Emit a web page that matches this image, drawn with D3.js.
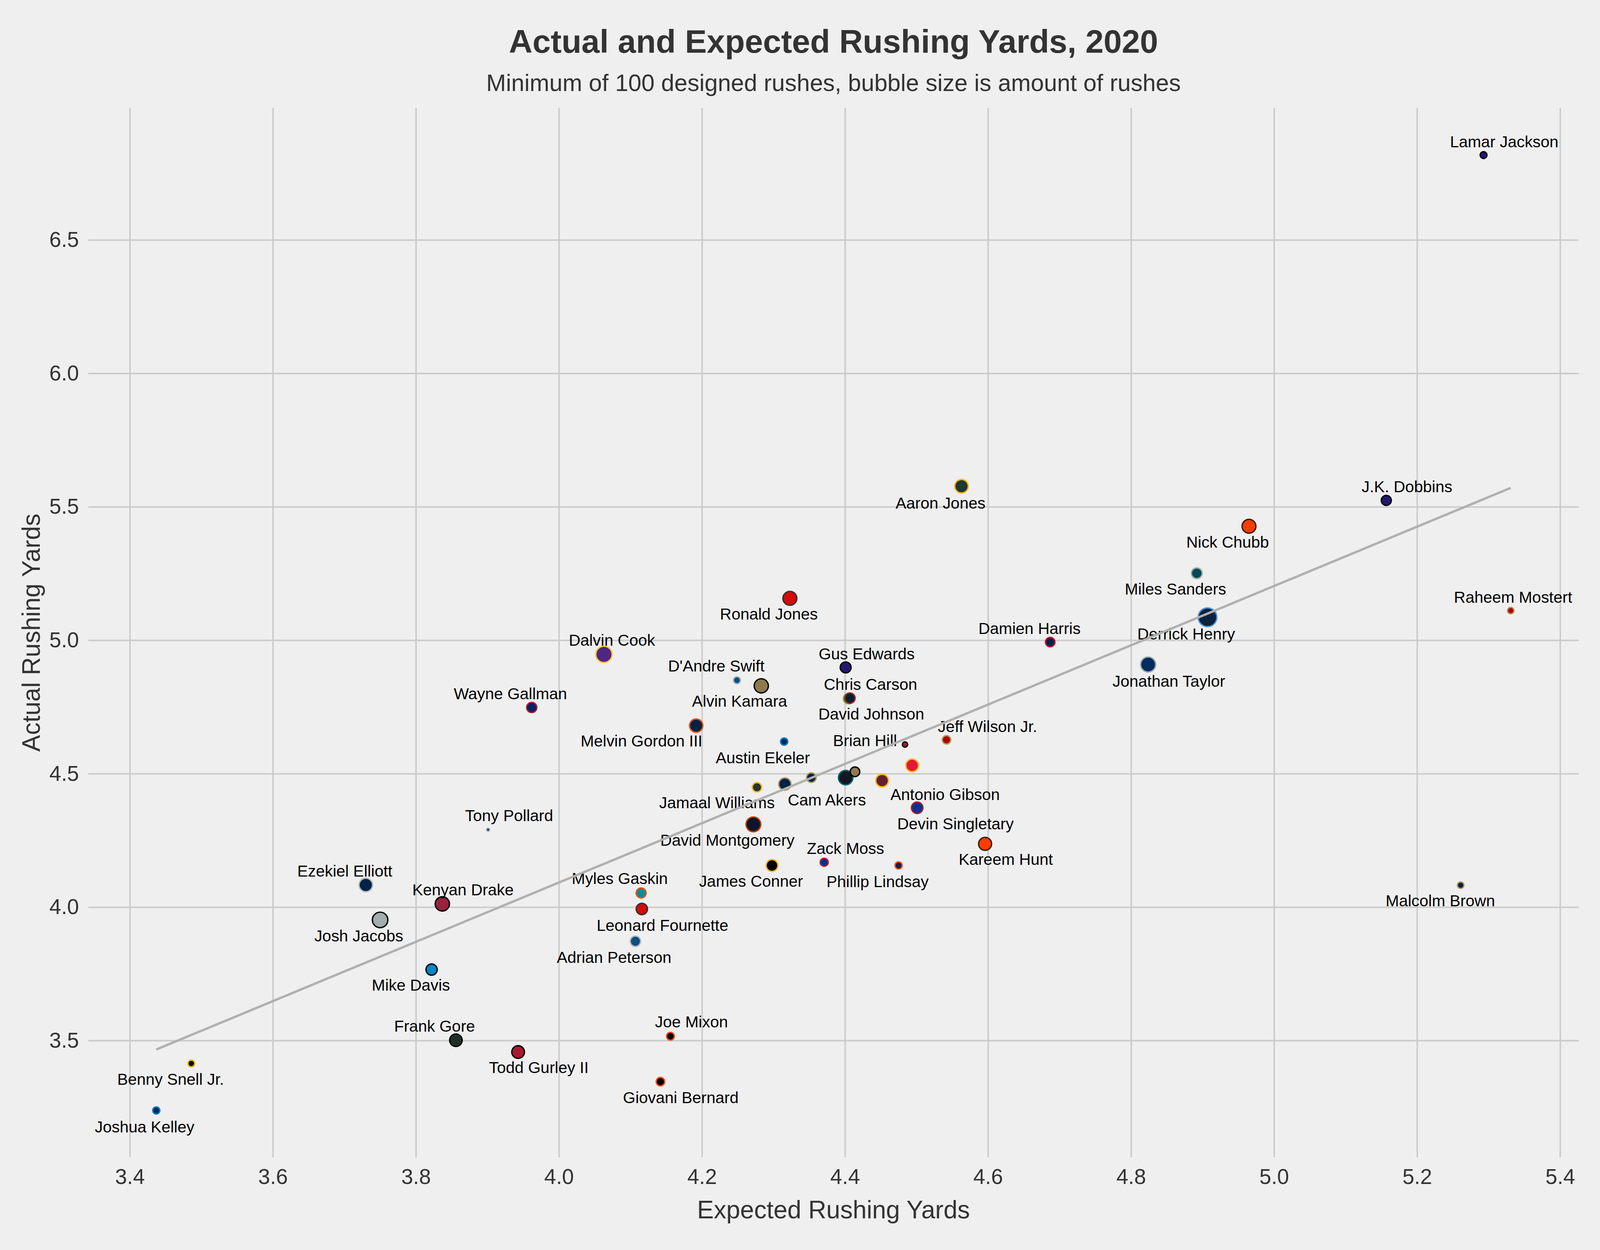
<!DOCTYPE html>
<html>
<head>
<meta charset="utf-8">
<script src="https://cdnjs.cloudflare.com/ajax/libs/d3/7.8.5/d3.min.js"></script>
<style>
  html, body { margin: 0; padding: 0; background: #efefef; overflow: hidden; }
  svg { display: block; }
  text { font-family: "Liberation Sans", Arial, Helvetica, sans-serif; }
</style>
</head>
<body>
<div id="viz"></div>
<script>
// ---- data ----
const players = [
  "Lamar Jackson", "Aaron Jones", "J.K. Dobbins", "Nick Chubb", "Miles Sanders",
  "Ronald Jones", "Raheem Mostert", "Damien Harris", "Derrick Henry", "Dalvin Cook",
  "Gus Edwards", "D'Andre Swift", "Jonathan Taylor", "Chris Carson", "Wayne Gallman",
  "Alvin Kamara", "David Johnson", "Jeff Wilson Jr.", "Melvin Gordon III", "Brian Hill",
  "Austin Ekeler", "Antonio Gibson", "Cam Akers", "Jamaal Williams", "Devin Singletary",
  "Tony Pollard", "David Montgomery", "Kareem Hunt", "Zack Moss", "Phillip Lindsay",
  "Ezekiel Elliott", "Myles Gaskin", "James Conner", "Malcolm Brown", "Kenyan Drake",
  "Leonard Fournette", "Josh Jacobs", "Adrian Peterson", "Mike Davis", "Frank Gore",
  "Joe Mixon", "Todd Gurley II", "Benny Snell Jr.", "Giovani Bernard", "Joshua Kelley",
  "Darrell Henderson", "James Robinson", "Latavius Murray", "Clyde Edwards-Helaire"
];
const teams = [
  "BAL", "GB", "BAL", "CLE", "PHI",
  "TB", "SF", "NE", "TEN", "MIN",
  "BAL", "DET", "IND", "SEA", "NYG",
  "NO", "HOU", "SF", "DEN", "ATL",
  "LAC", "WAS", "LA", "GB", "BUF",
  "DAL", "CHI", "CLE", "BUF", "DEN",
  "DAL", "MIA", "PIT", "LA", "ARI",
  "TB", "LV", "DET", "CAR", "NYJ",
  "CIN", "ATL", "PIT", "CIN", "LAC",
  "LA", "JAX", "NO", "KC"
];
const expected = [
  5.293, 4.563, 5.157, 4.965, 4.892,
  4.323, 5.331, 4.687, 4.907, 4.063,
  4.401, 4.249, 4.824, 4.405, 3.962,
  4.283, 4.407, 4.542, 4.192, 4.484,
  4.315, 4.452, 4.316, 4.277, 4.501,
  3.901, 4.272, 4.596, 4.371, 4.475,
  3.730, 4.115, 4.298, 5.261, 3.837,
  4.116, 3.750, 4.107, 3.822, 3.856,
  4.156, 3.943, 3.486, 4.142, 3.437,
  4.353, 4.401, 4.414, 4.494
];
const actual = [
  6.818, 5.577, 5.524, 5.427, 5.251,
  5.157, 5.111, 4.993, 5.086, 4.947,
  4.898, 4.850, 4.909, 4.781, 4.748,
  4.829, 4.783, 4.627, 4.680, 4.609,
  4.620, 4.474, 4.461, 4.449, 4.372,
  4.290, 4.310, 4.237, 4.168, 4.156,
  4.083, 4.053, 4.156, 4.082, 4.012,
  3.993, 3.952, 3.872, 3.766, 3.501,
  3.516, 3.457, 3.414, 3.346, 3.238,
  4.485, 4.485, 4.507, 4.531
];
const rushes = [
  135, 249, 182, 258, 195,
  260, 131, 172, 385, 317,
  197, 138, 287, 187, 184,
  266, 187, 157, 248, 118,
  140, 231, 225, 171, 208,
  101, 279, 239, 150, 140,
  249, 181, 213, 132, 268,
  205, 297, 187, 203, 229,
  148, 232, 135, 158, 139,
  175, 272, 175, 231
];
const xTicks = [3.4, 3.6, 3.8, 4.0, 4.2, 4.4, 4.6, 4.8, 5.0, 5.2, 5.4];
const yTicks = [3.5, 4.0, 4.5, 5.0, 5.5, 6.0, 6.5];
const fitSlope = 1.1111;
const fitIntercept = -0.3524;

// ---- styles / layout ----
const teamColors = {
  BAL: ["#241773", "#000000"], GB: ["#203731", "#FFB612"], CLE: ["#FF3C00", "#311D00"],
  PHI: ["#004C54", "#A5ACAF"], TB: ["#D50A0A", "#34302B"], SF: ["#AA0000", "#B3995D"],
  NE: ["#002244", "#C60C30"], TEN: ["#0C2340", "#4B92DB"], MIN: ["#4F2683", "#FFC62F"],
  DET: ["#0A4F82", "#B0B7BC"], IND: ["#002C5F", "#A2AAAD"], SEA: ["#002244", "#69BE28"],
  NYG: ["#0B2265", "#A71930"], NO: ["#8E7A4C", "#000000"], HOU: ["#03202F", "#A71930"],
  DEN: ["#002244", "#FB4F14"], ATL: ["#A71930", "#000000"], LAC: ["#002A5E", "#0080C6"],
  WAS: ["#632033", "#FFB612"], LA: ["#002244", "#B3995D"], JAX: ["#101820", "#006778"],
  KC: ["#E31837", "#FFB81C"], BUF: ["#00338D", "#C60C30"], DAL: ["#002244", "#B0B7BC"],
  CHI: ["#0B162A", "#C83803"], MIA: ["#008E97", "#FC4C02"], PIT: ["#000000", "#FFB612"],
  ARI: ["#97233F", "#000000"], LV: ["#A5ACAF", "#000000"], CAR: ["#0085CA", "#000000"],
  NYJ: ["#1E3129", "#000000"], CIN: ["#000000", "#FB4F14"]
};

// label offset from its dot, in design px (text centre)
const labelOffset = {
  "Lamar Jackson": [62, -35], "Aaron Jones": [-63, 42], "J.K. Dobbins": [62, -36],
  "Nick Chubb": [-64, 40], "Miles Sanders": [-64, 40], "Ronald Jones": [-63, 40],
  "Raheem Mostert": [7, -35], "Damien Harris": [-62, -35], "Derrick Henry": [-64, 42],
  "Dalvin Cook": [24, -37], "Gus Edwards": [63, -35], "D'Andre Swift": [-62, -37],
  "Jonathan Taylor": [62, 42], "Chris Carson": [66, -37], "Wayne Gallman": [-64, -36],
  "Alvin Kamara": [-65, 38], "David Johnson": [64, 40], "Jeff Wilson Jr.": [123, -35],
  "Melvin Gordon III": [-164, 39], "Brian Hill": [-120, -11], "Austin Ekeler": [-64, 41],
  "Antonio Gibson": [189, 35], "Cam Akers": [126, 40], "Jamaal Williams": [-120, 39],
  "Devin Singletary": [115, 40], "Tony Pollard": [63, -37], "David Montgomery": [-78, 40],
  "Kareem Hunt": [62, 39], "Zack Moss": [64, -36], "Phillip Lindsay": [-63, 41],
  "Ezekiel Elliott": [-63, -36], "Myles Gaskin": [-64, -38], "James Conner": [-63, 40],
  "Malcolm Brown": [-61, 39], "Kenyan Drake": [62, -37], "Leonard Fournette": [62, 41],
  "Josh Jacobs": [-64, 40], "Adrian Peterson": [-64, 41], "Mike Davis": [-62, 39],
  "Frank Gore": [-64, -37], "Joe Mixon": [63, -38], "Todd Gurley II": [62, 39],
  "Benny Snell Jr.": [-62, 40], "Giovani Bernard": [61, 40], "Joshua Kelley": [-35, 41]
};

// design space is 4800x3200; stretch positions to the real window, keep glyphs round
const W = 4800, H = 3200;
const vw = document.documentElement.clientWidth || window.innerWidth || W;
const vh = document.documentElement.clientHeight || window.innerHeight || H;
const sx = vw / W, sy = vh / H;
const f = Math.min(sx, sy);

const plot = { left: 265 * sx, right: 4736 * sx, top: 276 * sy, bottom: 2963 * sy };
const edgeWidth = 4 * f;
const gridColor = "#cbcbcb";
const textColor = "#333333";

const x = d3.scaleLinear().domain([3.342, 5.426]).range([plot.left, plot.right]);
const y = d3.scaleLinear().domain([3.062, 6.995]).range([plot.bottom, plot.top]);
const area = d3.scaleLinear().domain([85, 385]).range([0, 900 * f * f]); // bubble area

const points = players.map((name, i) => ({
  name, team: teams[i], ex: expected[i], ac: actual[i], n: rushes[i]
}));

const svg = d3.select("#viz").append("svg")
  .attr("width", vw).attr("height", vh);

svg.append("rect").attr("width", vw).attr("height", vh).attr("fill", "#efefef");

// grid + tick labels
const gx = svg.append("g")
  .attr("transform", `translate(0,${plot.bottom})`)
  .call(d3.axisBottom(x).tickValues(xTicks).tickFormat(d3.format(".1f"))
    .tickSizeInner(-(plot.bottom - plot.top)).tickSizeOuter(0).tickPadding(29 * sy));
gx.select(".domain").remove();
gx.selectAll(".tick line").attr("stroke", gridColor).attr("stroke-width", 4.5 * f);
gx.selectAll(".tick text").attr("font-size", 64 * f).attr("fill", textColor);

const gy = svg.append("g")
  .attr("transform", `translate(${plot.left},0)`)
  .call(d3.axisLeft(y).tickValues(yTicks).tickFormat(d3.format(".1f"))
    .tickSizeInner(-(plot.right - plot.left)).tickSizeOuter(0).tickPadding(28 * sx));
gy.select(".domain").remove();
gy.selectAll(".tick line").attr("stroke", gridColor).attr("stroke-width", 4.5 * f);
gy.selectAll(".tick text").attr("font-size", 64 * f).attr("fill", textColor);

// bubbles
svg.append("g").selectAll("circle")
  .data(points)
  .join("circle")
  .attr("cx", d => x(d.ex))
  .attr("cy", d => y(d.ac))
  .attr("r", d => Math.sqrt(area(d.n)) - edgeWidth / 2)
  .attr("fill", d => teamColors[d.team][0])
  .attr("stroke", d => teamColors[d.team][1])
  .attr("stroke-width", edgeWidth);

// player names
svg.append("g").selectAll("text")
  .data(points.filter(d => labelOffset[d.name]))
  .join("text")
  .attr("x", d => x(d.ex) + labelOffset[d.name][0] * sx)
  .attr("y", d => y(d.ac) + labelOffset[d.name][1] * sy)
  .attr("dy", "0.36em")
  .attr("text-anchor", "middle")
  .attr("font-size", 48 * f)
  .attr("fill", "#000")
  .text(d => d.name);

// trend line (drawn on top, as in the original)
const xr = d3.extent(expected);
svg.append("line")
  .attr("x1", x(xr[0])).attr("y1", y(fitIntercept + fitSlope * xr[0]))
  .attr("x2", x(xr[1])).attr("y2", y(fitIntercept + fitSlope * xr[1]))
  .attr("stroke", "#b0b0b0")
  .attr("stroke-width", 7 * f);

// titles
const midX = (plot.left + plot.right) / 2;
svg.append("text")
  .attr("x", midX).attr("y", 135 * sy)
  .attr("text-anchor", "middle")
  .attr("font-size", 98 * f).attr("font-weight", "bold")
  .attr("fill", textColor)
  .text("Actual and Expected Rushing Yards, 2020");

svg.append("text")
  .attr("x", midX).attr("y", 233 * sy)
  .attr("text-anchor", "middle")
  .attr("font-size", 71 * f)
  .attr("fill", textColor)
  .text("Minimum of 100 designed rushes, bubble size is amount of rushes");

svg.append("text")
  .attr("x", midX).attr("y", 3119 * sy)
  .attr("text-anchor", "middle")
  .attr("font-size", 75 * f)
  .attr("fill", textColor)
  .text("Expected Rushing Yards");

svg.append("text")
  .attr("transform", `translate(${119 * sx},${(plot.top + plot.bottom) / 2}) rotate(-90)`)
  .attr("text-anchor", "middle")
  .attr("font-size", 75 * f)
  .attr("fill", textColor)
  .text("Actual Rushing Yards");
</script>
</body>
</html>
